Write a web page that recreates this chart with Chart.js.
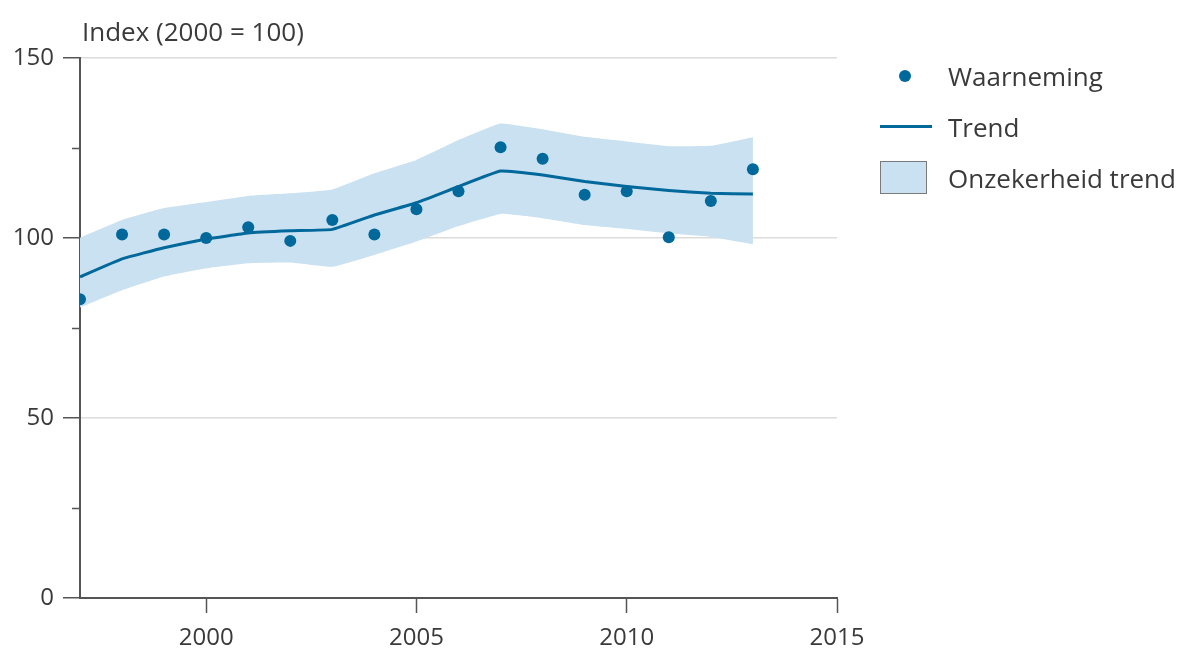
<!DOCTYPE html>
<html>
<head>
<meta charset="utf-8">
<script src="https://cdn.jsdelivr.net/npm/chart.js@4/dist/chart.umd.min.js"></script>
<style>
  body { margin: 0; background: #fff; font-family: "Open Sans", sans-serif; color: #3a3a3a; }
  #wrap { position: relative; width: 1180px; height: 653px; }
  #ytitle { position: absolute; left: 82px; top: 13px; font-size: 26px; line-height: 36px; }
  .leg { position: absolute; left: 948px; font-size: 26px; line-height: 36px; }
  .dot { position: absolute; left: 899px; top: 70px; width: 12px; height: 12px; border-radius: 50%; background: #01689b; }
  .ln { position: absolute; left: 880px; top: 125px; width: 52px; height: 3px; background: #01689b; }
  .box { position: absolute; left: 880px; top: 161px; width: 45px; height: 31px; background: #c9e1f0; border: 1.5px solid #7a7a7a; }
</style>
</head>
<body>
<div id="wrap">
  <canvas id="chart" width="1180" height="653"></canvas>
  <div id="ytitle">Index (2000 = 100)</div>
  <div class="dot"></div><div class="leg" style="top:58px">Waarneming</div>
  <div class="ln"></div><div class="leg" style="top:109px">Trend</div>
  <div class="box"></div><div class="leg" style="top:160px">Onzekerheid trend</div>
</div>
<script>
const years = [1997, 1998, 1999, 2000, 2001, 2002, 2003, 2004, 2005, 2006, 2007, 2008, 2009, 2010, 2011, 2012, 2013];
const observed = [83, 101, 101, 100, 103, 99.2, 105, 101, 108, 113, 125.2, 122, 112, 113, 100.2, 110.3, 119.1];
const trend = [89.2, 94.2, 97.3, 99.7, 101.4, 102, 102.4, 106.4, 109.8, 114.3, 118.6, 117.5, 115.7, 114.3, 113.2, 112.4, 112.2];
const upper = [100.1, 105, 108.3, 110, 111.7, 112.4, 113.5, 118, 121.7, 127.2, 131.8, 130.2, 128.1, 126.8, 125.5, 125.6, 128];
const lower = [80.7, 85.5, 89.3, 91.6, 93, 93.2, 92, 95.3, 99, 103.3, 106.7, 105.5, 103.6, 102.5, 101.3, 100.3, 98.3];
const xTicks = [2000, 2005, 2010, 2015];
const yMinor = [25, 75, 125];

const blue = "#01689b";
const band = "#c9e1f0";
const axisCol = "#555";

const pts = (arr) => years.map((y, i) => ({ x: y, y: arr[i] }));

// short ticks at 25, 75, 125
const minorTicks = {
  id: "minorTicks",
  afterDraw(chart) {
    const ys = chart.scales.y;
    const ctx = chart.ctx;
    ctx.save();
    ctx.strokeStyle = axisCol;
    ctx.lineWidth = 1.5;
    yMinor.forEach((v) => {
      const py = Math.round(ys.getPixelForValue(v)) + 0.5;
      ctx.beginPath();
      ctx.moveTo(ys.right - 8, py);
      ctx.lineTo(ys.right, py);
      ctx.stroke();
    });
    ctx.restore();
  },
};

new Chart(document.getElementById("chart"), {
  type: "line",
  data: {
    datasets: [
      { label: "Waarneming", data: pts(observed), showLine: false, pointRadius: 6, pointHoverRadius: 6,
        pointBackgroundColor: blue, pointBorderWidth: 0, order: 0 },
      { label: "Trend", data: pts(trend), borderColor: blue, borderWidth: 3, pointRadius: 0, tension: 0.1, order: 1 },
      { label: "upper", data: pts(upper), borderWidth: 0, pointRadius: 0, backgroundColor: band, fill: "+1", tension: 0.1, order: 2 },
      { label: "lower", data: pts(lower), borderWidth: 0, pointRadius: 0, fill: false, tension: 0.1, order: 3 },
    ],
  },
  options: {
    responsive: false,
    animation: false,
    devicePixelRatio: 1,
    layout: { padding: { top: 58, right: 343, left: 0, bottom: 0 } },
    plugins: { legend: { display: false }, tooltip: { enabled: false } },
    scales: {
      x: {
        type: "linear",
        min: 1997,
        max: 2015,
        afterFit(s) { s.height = 55; },
        afterBuildTicks(s) { s.ticks = xTicks.map((v) => ({ value: v })); },
        ticks: { color: "#3a3a3a", font: { family: "Open Sans", size: 24 }, padding: 11, callback: (v) => String(v), maxRotation: 0 },
        grid: { drawOnChartArea: false, drawTicks: true, tickLength: 15, tickColor: axisCol, tickWidth: 1.5 },
        border: { display: true, color: axisCol, width: 2 },
      },
      y: {
        min: 0,
        max: 150,
        afterFit(s) { s.width = 80; },
        ticks: { stepSize: 50, color: "#3a3a3a", font: { family: "Open Sans", size: 24 }, padding: 9 },
        grid: {
          color: (c) => (c.tick && c.tick.value > 0 ? "#dcdcdc" : "transparent"),
          lineWidth: 1.5,
          tickLength: 17,
          tickColor: axisCol,
          tickWidth: 1.5,
        },
        border: { display: true, color: axisCol, width: 2 },
      },
    },
  },
  plugins: [minorTicks],
});
</script>
</body>
</html>
